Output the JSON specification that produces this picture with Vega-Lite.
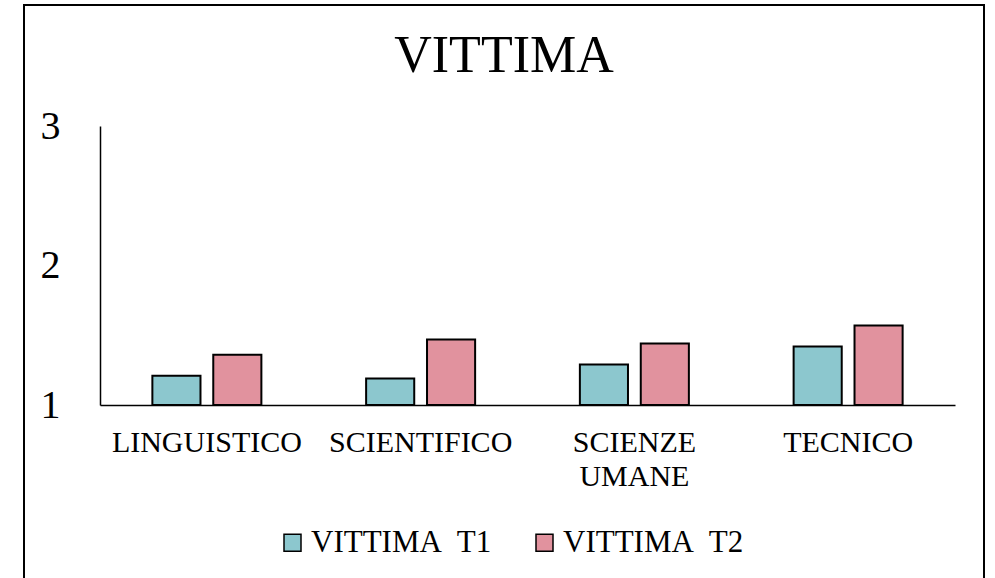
{
  "$schema": "https://vega.github.io/schema/vega-lite/v6.json",
  "width": 960,
  "height": 600,
  "autosize": {"type": "none"},
  "padding": {"left": 24, "top": 5, "right": 11, "bottom": 0},
  "background": "white",
  "config": {
    "font": "Liberation Serif",
    "view": {"stroke": "#000000", "strokeWidth": 2}
  },
  "title": {
    "text": "VITTIMA",
    "font": "Liberation Serif",
    "fontSize": 52,
    "fontWeight": "normal",
    "color": "#000000",
    "anchor": "middle",
    "baseline": "alphabetic",
    "offset": 0,
    "dy": 119
  },
  "data": {
    "values": [
      {"group": "LINGUISTICO", "series": "VITTIMA\u00a0 T1", "value": 1.21},
      {"group": "LINGUISTICO", "series": "VITTIMA\u00a0 T2", "value": 1.36},
      {"group": "SCIENTIFICO", "series": "VITTIMA\u00a0 T1", "value": 1.19},
      {"group": "SCIENTIFICO", "series": "VITTIMA\u00a0 T2", "value": 1.47},
      {"group": "SCIENZE UMANE", "series": "VITTIMA\u00a0 T1", "value": 1.29},
      {"group": "SCIENZE UMANE", "series": "VITTIMA\u00a0 T2", "value": 1.44},
      {"group": "TECNICO", "series": "VITTIMA\u00a0 T1", "value": 1.42},
      {"group": "TECNICO", "series": "VITTIMA\u00a0 T2", "value": 1.57}
    ]
  },
  "mark": {"type": "bar", "stroke": "#000000", "strokeWidth": 2},
  "encoding": {
    "x": {
      "field": "group",
      "type": "nominal",
      "sort": null,
      "scale": {"range": [76, 931], "paddingInner": 0, "paddingOuter": 0},
      "axis": {
        "title": null,
        "orient": "bottom",
        "offset": -200,
        "ticks": false,
        "domain": true,
        "domainColor": "#000000",
        "domainWidth": 1.5,
        "labelAngle": 0,
        "labelFont": "Liberation Serif",
        "labelFontSize": 30,
        "labelColor": "#000000",
        "labelPadding": 22,
        "labelLineHeight": 34,
        "labelBaseline": "top",
        "labelLimit": 400,
        "labelOverlap": false,
        "labelExpr": "datum.label == 'SCIENZE UMANE' ? ['SCIENZE', 'UMANE'] : datum.label"
      }
    },
    "xOffset": {
      "field": "series",
      "type": "nominal",
      "scale": {"paddingInner": 0.21, "paddingOuter": 0.86}
    },
    "y": {
      "field": "value",
      "type": "quantitative",
      "scale": {"domain": [1, 3], "zero": false, "range": [400, 121], "nice": false},
      "axis": {
        "title": null,
        "orient": "left",
        "offset": -76,
        "values": [1, 2, 3],
        "labelExpr": "toString(datum.value)",
        "ticks": false,
        "grid": false,
        "domain": true,
        "domainColor": "#000000",
        "domainWidth": 1.5,
        "labelOverlap": false,
        "labelFlush": false,
        "labelFont": "Liberation Serif",
        "labelFontSize": 40,
        "labelColor": "#000000",
        "labelPadding": 40
      }
    },
    "y2": {"datum": 1},
    "fill": {
      "field": "series",
      "type": "nominal",
      "scale": {"range": ["#8CC7CE", "#E1929E"]},
      "legend": {
        "title": null,
        "orient": "none",
        "direction": "horizontal",
        "legendX": 253,
        "legendY": 522,
        "symbolType": "square",
        "symbolSize": 289,
        "symbolStrokeColor": "#000000",
        "symbolStrokeWidth": 1.5,
        "symbolOpacity": 1,
        "labelFont": "Liberation Serif",
        "labelFontSize": 31,
        "labelColor": "#000000",
        "labelOffset": 3,
        "columnPadding": 37,
        "labelLimit": 400,
        "padding": 0
      }
    }
  }
}
